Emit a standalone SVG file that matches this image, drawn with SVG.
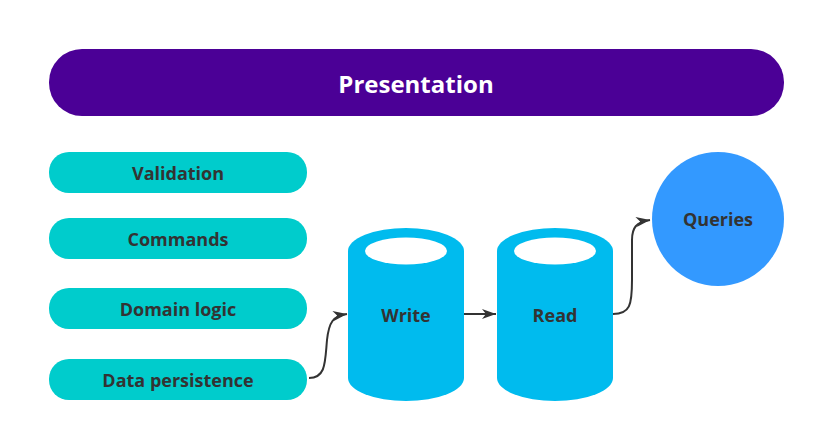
<svg xmlns="http://www.w3.org/2000/svg" width="817" height="432" viewBox="0 0 817 432">
<defs>
<style>
.lbl{font-family:"Open Sans","Noto Sans","Liberation Sans",sans-serif;font-weight:bold;font-size:18px;fill:#333333;text-anchor:middle;dominant-baseline:central}
.pill{fill:#00CCCC}
.cyl{fill:#00BBEE}
.conn{fill:none;stroke:#333333;stroke-width:2}
</style>
<marker id="arr" viewBox="0 0 14 10" refX="14" refY="5" markerWidth="15" markerHeight="10" markerUnits="userSpaceOnUse" orient="auto">
<path d="M0,0 L14,5 L0,10 L4,5 Z" fill="#333333"/>
</marker>
</defs>
<rect width="817" height="432" fill="#ffffff"/>
<g id="presentation">
<rect x="49" y="49" width="735" height="67" rx="33" fill="#4B0096"/>
<text x="416" y="83" class="lbl" style="fill:#ffffff;font-size:24px">Presentation</text>
</g>
<g id="validation">
<rect class="pill" x="49" y="152" width="258" height="41" rx="20"/>
<text x="178" y="173" class="lbl">Validation</text>
</g>
<g id="commands">
<rect class="pill" x="49" y="218" width="258" height="41" rx="20"/>
<text x="178" y="239" class="lbl">Commands</text>
</g>
<g id="domain-logic">
<rect class="pill" x="49" y="288" width="258" height="41" rx="20"/>
<text x="178" y="309" class="lbl">Domain logic</text>
</g>
<g id="data-persistence">
<rect class="pill" x="49" y="359" width="258" height="41" rx="20"/>
<text x="178" y="380" class="lbl">Data persistence</text>
</g>
<g id="write">
<path class="cyl" d="M348,251 A58,23 0 0 1 464,251 L464,378 A58,23 0 0 1 348,378 Z"/>
<ellipse cx="406" cy="251" rx="41" ry="13.5" fill="#ffffff"/>
<text x="406" y="315" class="lbl">Write</text>
</g>
<g id="read">
<path class="cyl" d="M497,251 A58,23 0 0 1 613,251 L613,378 A58,23 0 0 1 497,378 Z"/>
<ellipse cx="555" cy="251" rx="41" ry="13.5" fill="#ffffff"/>
<text x="555" y="315" class="lbl">Read</text>
</g>
<g id="queries">
<ellipse cx="718" cy="219" rx="66" ry="67" fill="#3399FF"/>
<text x="718" y="219" class="lbl">Queries</text>
</g>
<g id="connectors">
<path class="conn" marker-end="url(#arr)" d="M309,378 C326,378 325,362 327,340 C329,322 333,316 347,314"/>
<path class="conn" marker-end="url(#arr)" d="M464,314 L496,314"/>
<path class="conn" marker-end="url(#arr)" d="M613,314 C630,314 632,305 632,280 L632,240 C632,228 636,222 650,220"/>
</g>
</svg>
